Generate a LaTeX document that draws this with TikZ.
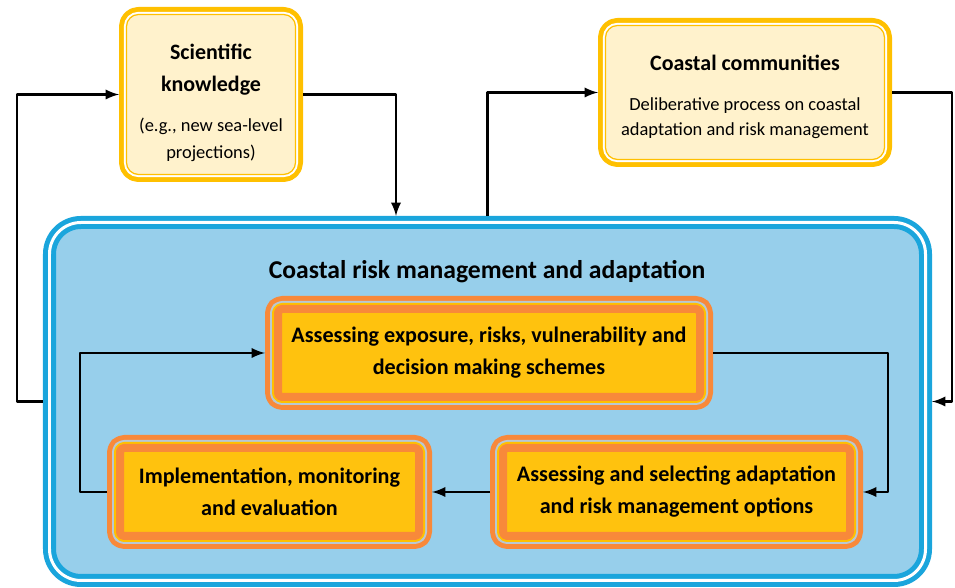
\documentclass[tikz,border=0pt]{standalone}
\usepackage{fontspec}
\setmainfont{Carlito}

\definecolor{skyfill}{HTML}{97CFEB}
\definecolor{cyanline}{HTML}{1AA5DC}
\definecolor{stageorange}{HTML}{F8893A}
\definecolor{stagefill}{HTML}{FFC20E}
\definecolor{ringgrey}{HTML}{B9C8D3}
\definecolor{ringyellow}{HTML}{FFC000}
\definecolor{gold}{HTML}{FFC000}
\definecolor{creamfill}{HTML}{FFF2CC}

\begin{document}
\begin{tikzpicture}[
    line join=round,
    arr/.style={-{latex}, line width=1.6pt},
    outerbox/.style={draw=cyanline, double=white, double distance=0.06cm, line width=0.1cm,
        fill=skyfill, rounded corners=0.63cm, minimum width=17.52cm, minimum height=7.16cm,
        outer sep=0.13cm, inner sep=0pt},
    topbox/.style={fill=creamfill, draw=gold, line width=0.025cm, rounded corners=0.24cm,
        preaction={draw=gold, line width=0.3cm}, preaction={draw=white, line width=0.104cm},
        outer sep=0.15cm, inner sep=0pt},
    toptext/.style={align=center, inner sep=0pt},
    stage/.style={fill=stagefill, draw=stageorange, line width=0.16cm, rounded corners=0.08cm,
        preaction={draw=stageorange, line width=0.52cm}, preaction={draw=ringgrey, line width=0.32cm},
        preaction={draw=ringyellow, line width=0.24cm},
        outer sep=0.26cm, inner sep=0pt, minimum height=1.76cm, align=center,
        font=\fontsize{12.6}{18.2}\selectfont\bfseries}
]

    % 画布大小
    \useasboundingbox (0,0) rectangle (19.1,11.76);

    % 外框：海岸风险管理与适应
    \node[outerbox] (crm) at (9.75,3.73) {};
    \node[font=\fontsize{14.6}{16}\selectfont\bfseries] (crmtitle) at (9.74,6.33) {Coastal risk management and adaptation};

    % 三个阶段
    \node[stage, minimum width=8.44cm] (expo) at (9.78,4.70) {Assessing exposure, risks, vulnerability and\\decision making schemes};
    \node[stage, minimum width=6.94cm] (opts) at (13.53,1.92) {Assessing and selecting adaptation\\and risk management options};
    \node[stage, minimum width=5.98cm] (impl) at (5.39,1.92) {Implementation, monitoring\\and evaluation};

    % 顶部两个框
    \node[topbox, minimum width=3.38cm, minimum height=3.2cm] (sci) at (4.22,9.87) {};
    \node[toptext, font=\fontsize{10.5}{15.4}\selectfont] (scitext) at (4.22,9.70)
        {{\fontsize{12.5}{14}\selectfont\bfseries Scientific}\\[2.8pt]
         {\fontsize{12.5}{14}\selectfont\bfseries knowledge}\\[7pt]
         (e.g., new sea-level\\projections)};
    \node[topbox, minimum width=5.58cm, minimum height=2.68cm] (comm) at (14.9,9.91) {};
    \node[toptext, font=\fontsize{10.5}{14.2}\selectfont] (commtext) at (14.9,9.83)
        {{\fontsize{12.5}{14}\selectfont\bfseries Coastal communities}\\[8.5pt]
         Deliberative process on coastal\\adaptation and risk management};

    % 外部反馈回路
    \coordinate (drop) at (7.92,7.44);
    \draw[arr] (crm.west) -- ++(-0.52,0) |- (sci.west);
    \draw[arr] (sci.east) -| (drop);
    \draw[arr] (crm.north) |- (comm.west);
    \draw[arr] (comm.east) -- ++(1.2,0) |- (crm.east);

    % 内部循环
    \draw[arr] (expo.east) -- ++(3.5,0) |- (opts.east);
    \draw[arr] (opts.west) -- (impl.east);
    \draw[arr] (impl.west) -- ++(-0.54,0) |- (expo.west);
\end{tikzpicture}
\end{document}
